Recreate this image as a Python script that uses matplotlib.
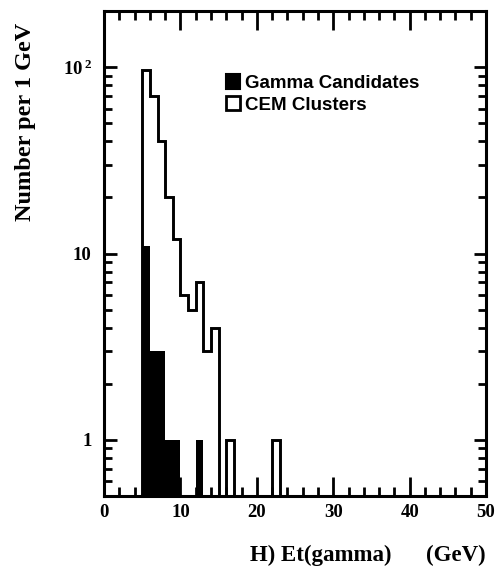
import numpy as np
import matplotlib
matplotlib.use("Agg")
import matplotlib.pyplot as plt
from matplotlib.patches import Patch
from matplotlib.ticker import FixedLocator, FixedFormatter, MultipleLocator, LogLocator, NullFormatter

# 1 GeV bins starting at 5 GeV
cem_edges = np.arange(5, 24)
cem_counts = [97, 70, 40, 20, 12, 6, 5, 7, 3, 4, 0, 1, 0, 0, 0, 0, 0, 1]

gamma_edges = np.arange(5, 14)
gamma_counts = [11, 3, 3, 1, 1, 0, 0, 1]

ytick_vals = [1, 10, 100]
ytick_text = ["1", "10", r"$\mathbf{10^{\,2}}$"]
xtick_vals = [0, 10, 20, 30, 40, 50]

plt.rcParams["mathtext.fontset"] = "custom"
plt.rcParams["mathtext.bf"] = "Liberation Serif:bold"
plt.rcParams["mathtext.rm"] = "Liberation Serif"

fig = plt.figure(figsize=(4.98, 5.88), dpi=100)
ax = fig.add_axes([0.209, 0.1565, 0.767, 0.8245])
ax.set_yscale("log", nonpositive="clip")

# filled bars for the candidates, open step outline for all clusters
ax.bar(gamma_edges[:-1], gamma_counts, width=1.0, align="edge",
       color="black", linewidth=0)
ax.stairs(cem_counts, cem_edges, fill=False, color="black", linewidth=2.1, baseline=0)

ax.set_xlim(0, 50)
ax.set_ylim(0.5, 200)

for sp in ax.spines.values():
    sp.set_linewidth(2.2)

ax.xaxis.set_major_locator(FixedLocator(xtick_vals))
ax.xaxis.set_minor_locator(MultipleLocator(2))
ax.yaxis.set_major_locator(FixedLocator(ytick_vals))
ax.yaxis.set_major_formatter(FixedFormatter(ytick_text))
ax.yaxis.set_minor_locator(LogLocator(base=10, subs=np.arange(2, 10)))
ax.yaxis.set_minor_formatter(NullFormatter())

ax.tick_params(axis="x", which="major", direction="in", length=14, width=2, top=True, pad=6)
ax.tick_params(axis="x", which="minor", direction="in", length=6.5, width=2, top=True)
ax.tick_params(axis="y", which="major", direction="in", length=9, width=2, right=True, pad=9)
ax.tick_params(axis="y", which="minor", direction="in", length=6, width=2, right=True)

for lab in ax.get_xticklabels() + ax.get_yticklabels():
    lab.set_fontfamily("Liberation Serif")
    lab.set_fontweight("bold")
    lab.set_fontsize(13.5)

handles = [Patch(facecolor="black", edgecolor="black", linewidth=1.5),
           Patch(facecolor="white", edgecolor="black", linewidth=2.0)]
leg = ax.legend(handles, ["Gamma Candidates", "CEM Clusters"],
                loc="upper left", bbox_to_anchor=(0.30, 0.885), frameon=False,
                handlelength=0.75, handleheight=0.8, handletextpad=0.25,
                labelspacing=0.2, borderaxespad=0,
                prop={"family": "Liberation Sans", "weight": "bold", "size": 13.5})

fig.text(26 / 498, 1 - 122 / 588, "Number per 1 GeV", rotation=90,
         ha="center", va="center", fontfamily="Liberation Serif",
         fontweight="bold", fontsize=17.5)
fig.text(486 / 498, 1 - 555 / 588, "H) Et(gamma)      (GeV)",
         ha="right", va="center", fontfamily="Liberation Serif",
         fontweight="bold", fontsize=16.5)

fig.savefig("out.png", dpi=100)
